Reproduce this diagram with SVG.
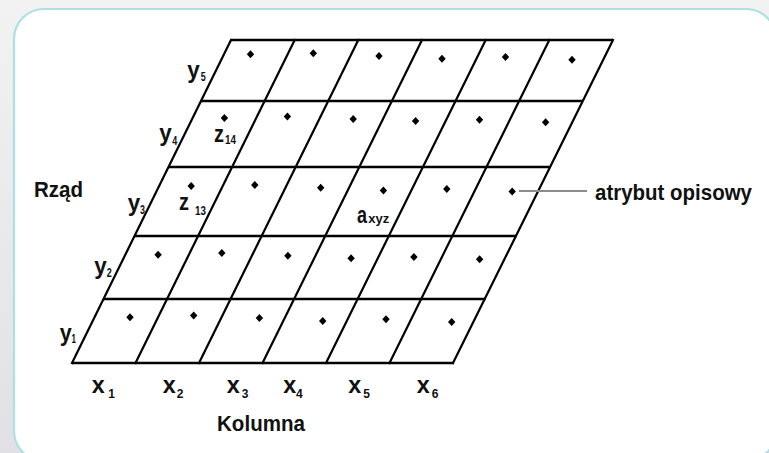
<svg xmlns="http://www.w3.org/2000/svg" width="769" height="453" viewBox="0 0 769 453">
<style>
.g{stroke:#000;stroke-width:2.2;fill:none;stroke-linecap:square}
.h{stroke:#000;stroke-width:2.6;fill:none}
.t{font-family:"Liberation Sans",Arial,sans-serif;font-weight:bold;fill:#111}
.m{font-size:23px}
.s{font-size:12px}
.l{font-size:22px}
</style>
<defs>
<linearGradient id="bg" x1="0" y1="0" x2="0" y2="1">
<stop offset="0" stop-color="#f2f2f2"/>
<stop offset="1" stop-color="#e1e1e5"/>
</linearGradient>
<path id="d" d="M0,-4 L3.7,0 L0,4 L-3.7,0Z" fill="#000"/>
</defs>
<rect x="0" y="0" width="769" height="453" fill="url(#bg)"/>
<rect x="14" y="9" width="762" height="452" rx="30" fill="#fff" stroke="#ade0e3" stroke-width="2.2"/>
<g id="grid">
<line class="h" x1="231" y1="40" x2="613" y2="40"/>
<line class="h" x1="201" y1="101" x2="583" y2="101"/>
<line class="h" x1="168.5" y1="167" x2="550.5" y2="167"/>
<line class="h" x1="134.6" y1="236" x2="516.6" y2="236"/>
<line class="h" x1="103.6" y1="299" x2="485.6" y2="299"/>
<line class="h" x1="72" y1="363" x2="454" y2="363"/>
<line class="g" x1="231" y1="40" x2="72" y2="363"/>
<line class="g" x1="294.7" y1="40" x2="135.5" y2="363"/>
<line class="g" x1="358.3" y1="40" x2="199" y2="363"/>
<line class="g" x1="422" y1="40" x2="262.5" y2="363"/>
<line class="g" x1="485.7" y1="40" x2="326" y2="363"/>
<line class="g" x1="549.3" y1="40" x2="389.5" y2="363"/>
<line class="g" x1="613" y1="40" x2="453" y2="363"/>
</g>
<g id="dots">
<use href="#d" x="250.5" y="54.3"/><use href="#d" x="313.3" y="53.3"/><use href="#d" x="379" y="56"/><use href="#d" x="442" y="58.7"/><use href="#d" x="505.5" y="57"/><use href="#d" x="572" y="59.8"/>
<use href="#d" x="224.4" y="118"/><use href="#d" x="287.4" y="116.5"/><use href="#d" x="353.2" y="119"/><use href="#d" x="415.6" y="121"/><use href="#d" x="479.5" y="119.7"/><use href="#d" x="545.6" y="122.3"/>
<use href="#d" x="191.2" y="186"/><use href="#d" x="254.8" y="185"/><use href="#d" x="320.7" y="187.7"/><use href="#d" x="383.4" y="190.5"/><use href="#d" x="446.8" y="189"/><use href="#d" x="512.2" y="191.5"/>
<use href="#d" x="158.1" y="254.7"/><use href="#d" x="221.8" y="253"/><use href="#d" x="287.9" y="255.7"/><use href="#d" x="351.1" y="258.3"/><use href="#d" x="413.9" y="257"/><use href="#d" x="479.6" y="259.3"/>
<use href="#d" x="130" y="317.2"/><use href="#d" x="193.7" y="315.5"/><use href="#d" x="259.4" y="318"/><use href="#d" x="322.7" y="321"/><use href="#d" x="386" y="319.3"/><use href="#d" x="451.7" y="322"/>
</g>
<g id="connectors">
<line x1="519" y1="191" x2="587" y2="191" stroke="#8c8c8c" stroke-width="1.8"/>
</g>
<g id="label-attr"><text class="t l" x="595" y="199.5" textLength="157" lengthAdjust="spacingAndGlyphs">atrybut opisowy</text></g>
<g id="label-rzad"><text class="t l" x="34" y="197" textLength="49" lengthAdjust="spacingAndGlyphs">Rząd</text></g>
<g id="label-kolumna"><text class="t l" x="217" y="430.5" textLength="88" lengthAdjust="spacingAndGlyphs">Kolumna</text></g>
<g id="x-labels">
<text class="t m" x="91.7" y="392.5" textLength="13" lengthAdjust="spacingAndGlyphs">x</text><text class="t s" x="108.3" y="397.5">1</text>
<text class="t m" x="162.7" y="392.5" textLength="13" lengthAdjust="spacingAndGlyphs">x</text><text class="t s" x="176.7" y="397.5">2</text>
<text class="t m" x="226.7" y="392.5" textLength="13" lengthAdjust="spacingAndGlyphs">x</text><text class="t s" x="241.7" y="397.5">3</text>
<text class="t m" x="283.3" y="392.5" textLength="13" lengthAdjust="spacingAndGlyphs">x</text><text class="t s" x="296" y="397.5">4</text>
<text class="t m" x="348.3" y="392.5" textLength="13" lengthAdjust="spacingAndGlyphs">x</text><text class="t s" x="363.3" y="397.5">5</text>
<text class="t m" x="416.7" y="392.5" textLength="13" lengthAdjust="spacingAndGlyphs">x</text><text class="t s" x="431.7" y="397.5">6</text>
</g>
<g id="y-labels">
<text class="t m" x="187.3" y="77.5" textLength="12.5" lengthAdjust="spacingAndGlyphs">y</text><text class="t s" x="200.7" y="80.5" textLength="5" lengthAdjust="spacingAndGlyphs">5</text>
<text class="t m" x="159.3" y="141" textLength="12.5" lengthAdjust="spacingAndGlyphs">y</text><text class="t s" x="172.3" y="144.5" textLength="5" lengthAdjust="spacingAndGlyphs">4</text>
<text class="t m" x="127.7" y="211" textLength="12.5" lengthAdjust="spacingAndGlyphs">y</text><text class="t s" x="140" y="213.5" textLength="5" lengthAdjust="spacingAndGlyphs">3</text>
<text class="t m" x="94.3" y="273.5" textLength="12.5" lengthAdjust="spacingAndGlyphs">y</text><text class="t s" x="106.7" y="276.5" textLength="5" lengthAdjust="spacingAndGlyphs">2</text>
<text class="t m" x="59.8" y="341" textLength="12" lengthAdjust="spacingAndGlyphs">y</text><text class="t s" x="71.6" y="342.5" textLength="4.5" lengthAdjust="spacingAndGlyphs">1</text>
</g>
<g id="cell-labels">
<text class="t m" x="214" y="142" textLength="10" lengthAdjust="spacingAndGlyphs">z</text><text class="t s" x="225" y="144" textLength="11" lengthAdjust="spacingAndGlyphs">14</text>
<text class="t m" x="179" y="209.5" textLength="10" lengthAdjust="spacingAndGlyphs">z</text><text class="t s" x="195" y="214.5" textLength="11" lengthAdjust="spacingAndGlyphs">13</text>
<text class="t m" x="357" y="222.5" textLength="10" lengthAdjust="spacingAndGlyphs">a</text><text class="t s" x="368.3" y="223" textLength="21" lengthAdjust="spacingAndGlyphs">xyz</text>
</g>
</svg>
